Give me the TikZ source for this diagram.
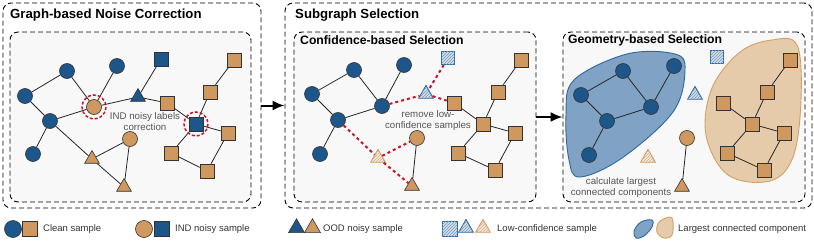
\documentclass[tikz,border=0pt]{standalone}
\usepackage{fontspec}
\setmainfont{Liberation Sans}
\usetikzlibrary{shapes.geometric,patterns,arrows.meta}
\definecolor{cblue}{RGB}{29,86,138}
\definecolor{corange}{RGB}{207,152,94}
\definecolor{cred}{RGB}{195,22,42}
\definecolor{blobblue}{RGB}{128,162,196}
\definecolor{blobblueline}{RGB}{44,104,160}
\definecolor{bloborange}{RGB}{230,203,170}
\definecolor{bloborangeline}{RGB}{212,160,100}
\definecolor{boxgray}{RGB}{248,248,248}
\definecolor{txtgray}{RGB}{85,85,85}
\begin{document}
\begin{tikzpicture}[x=1pt, y=-1pt,
    smp/.style={draw=black!80, line width=0.6pt, inner sep=0pt},
    bcirc/.style={smp, circle, fill=cblue, minimum size=15pt},
    ocirc/.style={smp, circle, fill=corange, minimum size=15pt},
    bsq/.style={smp, fill=cblue, minimum size=14pt},
    osq/.style={smp, fill=corange, minimum size=14pt},
    tri/.style={smp, regular polygon, regular polygon sides=3, minimum size=17pt},
    btri/.style={tri, fill=cblue},
    otri/.style={tri, fill=corange},
    lowb/.style={draw=blobblueline, line width=0.9pt, fill=cblue!20, inner sep=0pt,
      postaction={pattern=north east lines, pattern color=cblue!60}},
    lowo/.style={draw=corange, line width=0.9pt, fill=corange!20, inner sep=0pt,
      postaction={pattern=north east lines, pattern color=corange!80}},
    lbsq/.style={lowb, minimum size=13pt},
    lbtri/.style={lowb, regular polygon, regular polygon sides=3, minimum size=17pt},
    lotri/.style={lowo, regular polygon, regular polygon sides=3, minimum size=17pt},
    link/.style={line width=0.8pt, black!85},
    rmlink/.style={line width=2pt, cred, dash pattern=on 3pt off 3pt},
    ring/.style={cred, line width=1.5pt, dash pattern=on 3pt off 2pt},
    outbox/.style={draw, line width=0.9pt, dash pattern=on 5pt off 3pt, rounded corners=8pt, inner sep=0pt},
    inbox/.style={outbox, fill=boxgray},
    flow/.style={line width=2pt, -{Latex[length=12pt, width=10pt]}},
    title/.style={font=\fontsize{13.2}{15}\selectfont\bfseries, anchor=west, inner sep=0pt},
    subtitle/.style={font=\fontsize{12.2}{14}\selectfont\bfseries, anchor=west, inner sep=0pt},
    note/.style={font=\fontsize{9.7}{11}\selectfont, text=txtgray, align=center, inner sep=0pt},
    legtext/.style={font=\fontsize{9.5}{11}\selectfont, text=black!80, anchor=west, inner sep=0pt},
  ]
  \useasboundingbox (0,0) rectangle (814,241);
  % Boxes
  \node[outbox, minimum width=258pt, minimum height=205pt] (corr) at (132,105.5) {};
  \node[inbox, minimum width=241pt, minimum height=170pt] (corrin) at (130.5,117) {};
  \node[outbox, minimum width=527pt, minimum height=205pt] (sel) at (548.5,105.5) {};
  \node[inbox, minimum width=242pt, minimum height=170pt] (conf) at (415,117) {};
  \node[inbox, minimum width=242pt, minimum height=170pt] (geo) at (684,117) {};
  \node[title] (t1) at (10,15) {Graph-based Noise Correction};
  \node[title] (t2) at (295,15) {Subgraph Selection};
  \node[subtitle] (t3) at (300,40) {Confidence-based Selection};
  \node[subtitle] (t4) at (568,40) {Geometry-based Selection};
  \draw[flow] (corr.east) -- (sel.west);
  \draw[flow] (conf.east) -- (geo.west);

  % Largest components
  \draw[blobblueline, fill=blobblue, line width=0.9pt] plot[smooth cycle, tension=0.6]
    coordinates {(566,115) (574,80) (627,54) (675,54) (685,70) (673,112) (622,158) (580,177) (569,160)};
  \draw[bloborangeline, fill=bloborange, line width=0.9pt] plot[smooth cycle, tension=0.6]
    coordinates {(772,40) (797,45) (801,100) (793,157) (770,181) (728,175) (706,135) (712,88) (740,52)};

  % Noise correction graph
  \node[bcirc] (a1) at (67,71) {};
  \node[bcirc] (a2) at (117,66) {};
  \node[bcirc] (a3) at (25,96) {};
  \node[bcirc] (a4) at (50,121) {};
  \node[bcirc] (a5) at (33,154) {};
  \node[ocirc] (a6) at (94,107) {};
  \node[ocirc] (a7) at (130,139) {};
  \node[btri] (a8) at (138,97) {};
  \node[bsq] (a9) at (161,59) {};
  \node[osq] (a10) at (167,103) {};
  \node[bsq] (a11) at (196,124) {};
  \node[otri] (a12) at (92,159) {};
  \node[otri] (a13) at (124,187) {};
  \node[osq] (a14) at (234,60) {};
  \node[osq] (a15) at (210,92) {};
  \node[osq] (a16) at (228,133) {};
  \node[osq] (a17) at (171,153) {};
  \node[osq] (a18) at (207,171) {};
  \draw[link] (a3) -- (a1) (a1) -- (a6) (a2) -- (a6) (a3) -- (a4) (a4) -- (a6)
    (a4) -- (a5) (a4) -- (a12) (a12) -- (a7) (a12) -- (a13) (a7) -- (a13)
    (a6) -- (a8) (a8) -- (a9) (a8) -- (a10) (a10) -- (a11) (a11) -- (a15)
    (a15) -- (a14) (a11) -- (a16) (a11) -- (a17) (a17) -- (a18) (a18) -- (a16);
  \draw[ring] (a6) circle[radius=12];
  \draw[ring] (a11) circle[radius=12];
  \node[note] (n1) at (145,122) {IND noisy labels\\correction};

  % Confidence-based selection
  \node[bcirc] (b1) at (354,70) {};
  \node[bcirc] (b2) at (404,65) {};
  \node[bcirc] (b3) at (312,94) {};
  \node[bcirc] (b4) at (382,106) {};
  \node[bcirc] (b5) at (338,120) {};
  \node[bcirc] (b6) at (320,154) {};
  \node[lbsq] (b7) at (448,58) {};
  \node[lbtri] (b8) at (426,94) {};
  \node[osq] (b9) at (454,103) {};
  \node[lotri] (b10) at (378,158) {};
  \node[ocirc] (b11) at (417,138) {};
  \node[otri] (b12) at (412,186) {};
  \node[osq] (b13) at (521,60) {};
  \node[osq] (b14) at (498,92) {};
  \node[osq] (b15) at (483,124) {};
  \node[osq] (b16) at (515,133) {};
  \node[osq] (b17) at (458,153) {};
  \node[osq] (b18) at (495,170) {};
  \draw[link] (b3) -- (b1) (b1) -- (b4) (b2) -- (b4) (b3) -- (b5) (b5) -- (b4)
    (b5) -- (b6) (b11) -- (b12) (b13) -- (b14) (b14) -- (b15) (b9) -- (b15)
    (b15) -- (b16) (b15) -- (b17) (b17) -- (b18) (b18) -- (b16);
  \draw[rmlink] (b4) -- (b8) (b8) -- (b9) (b7) -- (b8)
    (b5) -- (b10) (b10) -- (b11) (b10) -- (b12);
  \node[note] (n2) at (428,120) {remove low-\\confidence samples};

  % Geometry-based selection
  \node[bcirc] (c1) at (623,71) {};
  \node[bcirc] (c2) at (674,66) {};
  \node[bcirc] (c3) at (581,95) {};
  \node[bcirc] (c4) at (651,107) {};
  \node[bcirc] (c5) at (607,121) {};
  \node[bcirc] (c6) at (589,155) {};
  \node[lbsq] (c7) at (717,57) {};
  \node[lbtri] (c8) at (695,95) {};
  \node[lotri] (c9) at (648,158) {};
  \node[ocirc] (c10) at (687,138) {};
  \node[otri] (c11) at (682,187) {};
  \node[osq] (c12) at (790,60) {};
  \node[osq] (c13) at (767,92) {};
  \node[osq] (c14) at (723,103) {};
  \node[osq] (c15) at (752,124) {};
  \node[osq] (c16) at (784,133) {};
  \node[osq] (c17) at (727,153) {};
  \node[osq] (c18) at (764,170) {};
  \draw[link] (c3) -- (c1) (c1) -- (c4) (c2) -- (c4) (c3) -- (c5) (c5) -- (c4)
    (c5) -- (c6) (c10) -- (c11) (c12) -- (c13) (c13) -- (c15) (c14) -- (c15)
    (c15) -- (c16) (c15) -- (c17) (c17) -- (c18) (c18) -- (c16);
  \node[note] (n3) at (621,187) {calculate largest\\connected components};

  % Legend
  \node[bcirc, minimum size=17pt] (l1) at (13,229) {};
  \node[osq, minimum size=15pt] (l2) at (30,229) {};
  \node[legtext] (l3) at (43,229) {Clean sample};
  \node[ocirc, minimum size=17pt] (l4) at (144,229) {};
  \node[bsq, minimum size=15pt] (l5) at (162,229) {};
  \node[legtext] (l6) at (175,229) {IND noisy sample};
  \node[btri, minimum size=18.5pt] (l7) at (296.5,228) {};
  \node[otri, minimum size=18.5pt] (l8) at (312.5,228) {};
  \node[legtext] (l9) at (323,229) {OOD noisy sample};
  \node[lbsq, minimum size=15pt] (l10) at (449.5,229) {};
  \node[lbtri, minimum size=17pt] (l11) at (466,228) {};
  \node[lotri, minimum size=17pt] (l12) at (483,228) {};
  \node[legtext] (l13) at (497,229) {Low-confidence sample};
  \draw[blobblueline, fill=blobblue, line width=0.9pt] plot[smooth cycle, tension=0.6]
    coordinates {(634,231) (641,222) (652,220) (652,227) (644,236) (636,238)};
  \draw[bloborangeline, fill=bloborange, line width=0.9pt] plot[smooth cycle, tension=0.6]
    coordinates {(659,222) (670,217) (673,222) (672,235) (664,238) (657,232)};
  \node[legtext] (l14) at (678,229) {Largest connected component};
\end{tikzpicture}
\end{document}
